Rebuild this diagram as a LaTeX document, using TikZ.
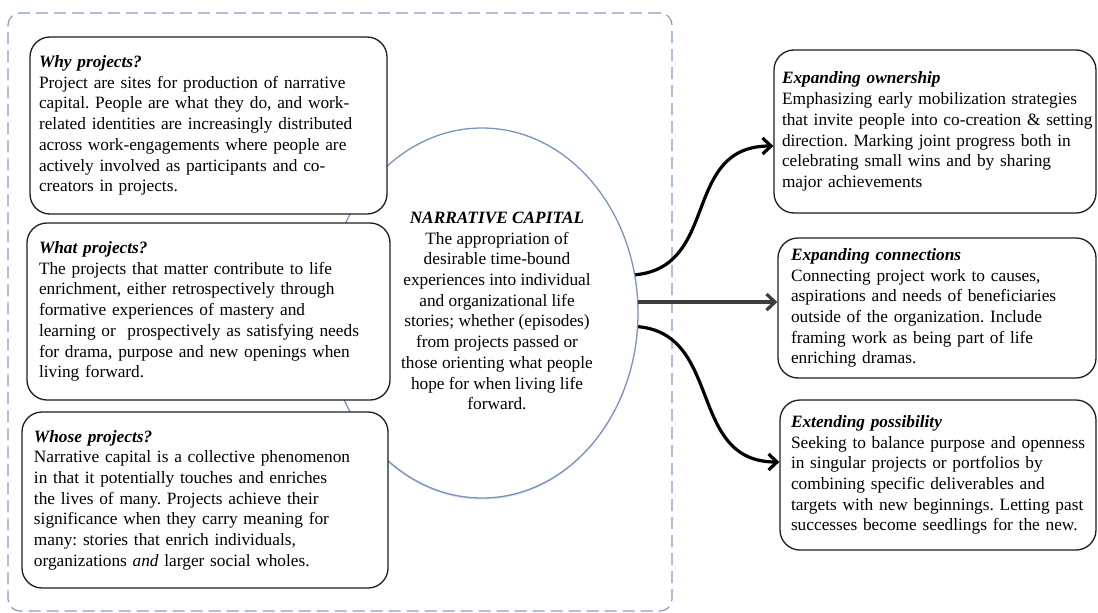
\documentclass[tikz,border=0pt]{standalone}
\usepackage{fontspec}
\setmainfont{Liberation Serif}
\usetikzlibrary{shapes.geometric,arrows.meta,shadows}
\definecolor{framecol}{HTML}{879BC4}
\definecolor{ellcol}{HTML}{7C93BF}
\definecolor{boxline}{HTML}{1E1E1E}
\definecolor{midarrow}{HTML}{3C3C3C}
\newcommand{\Ln}[1]{\mbox{#1}}
\frenchspacing
\begin{document}
\begin{tikzpicture}[x=1pt,y=-1pt,
  txt/.style={font=\fontsize{17.3}{20.7}\selectfont},
  infobox/.style={draw=boxline, line width=1.3pt, rounded corners=20pt, fill=white,
    align=left, txt, inner ysep=0pt},
  flowarrow/.style={line width=3.2pt, -{Straight Barb[length=8.5pt,width=16pt]}},
]
\useasboundingbox (0,0) rectangle (1098,613);

% dashed frame
\node[draw=framecol, dash pattern=on 12pt off 6pt, line width=1.2pt, rounded corners=12pt,
  minimum width=664pt, minimum height=598pt, inner sep=0pt] (frame) at (340,312) {};

% central ellipse
\node[ellipse, draw=ellcol, line width=1.3pt, fill=white, minimum width=312pt,
  minimum height=370pt, inner sep=0pt,
  drop shadow={shadow xshift=0pt, shadow yshift=-1.5pt, opacity=0.35, fill=ellcol}] (nc) at (482,313) {};
\node[txt, align=center, inner sep=0pt] (nctext) at (497,311)
  {\textbf{\textit{NARRATIVE CAPITAL}}\\The appropriation of\\desirable time-bound\\experiences into individual\\and organizational life\\stories; whether (episodes)\\from projects passed or\\those orienting what people\\hope for when living life\\forward.};

% left boxes
\node[infobox, text width=339pt, inner xsep=9pt, minimum height=177pt] (why) at (208.5,125.5)
  {\textbf{\textit{Why projects?}}\\
   \Ln{Project are sites for production of narrative}\\
   \Ln{capital. People are what they do, and work-}\\
   \Ln{related identities are increasingly distributed}\\
   \Ln{across work-engagements where people are}\\
   \Ln{actively involved as participants and co-}\\
   \Ln{creators in projects.}};
\node[infobox, text width=339pt, inner xsep=12pt, minimum height=177pt] (what) at (208.5,311.5)
  {\textbf{\textit{What projects?}}\\
   \Ln{The projects that matter contribute to life}\\
   \Ln{enrichment, either retrospectively through}\\
   \Ln{formative experiences of mastery and}\\
   \Ln{learning or~ prospectively as satisfying needs}\\
   \Ln{for drama, purpose and new openings when}\\
   \Ln{living forward.}};
\node[infobox, text width=342pt, inner xsep=12pt, minimum height=176pt] (whose) at (205,500)
  {\textbf{\textit{Whose projects?}}\\
   \Ln{Narrative capital is a collective phenomenon}\\
   \Ln{in that it potentially touches and enriches}\\
   \Ln{the lives of many. Projects achieve their}\\
   \Ln{significance when they carry meaning for}\\
   \Ln{many: stories that enrich individuals,}\\
   \Ln{organizations \textit{and} larger social wholes.}};

% right boxes
\node[infobox, text width=306pt, inner xsep=8pt, minimum height=163pt] (own) at (935,131.5)
  {\textbf{\textit{Expanding ownership}}\\
   \Ln{Emphasizing early mobilization strategies}\\
   \Ln{that invite people into co-creation \& setting}\\
   \Ln{direction. Marking joint progress both in}\\
   \Ln{celebrating small wins and by sharing}\\
   \Ln{major achievements}};
\node[infobox, text width=292pt, inner xsep=13pt, minimum height=140pt] (conn) at (937,308)
  {\textbf{\textit{Expanding connections}}\\
   \Ln{Connecting project work to causes,}\\
   \Ln{aspirations and needs of beneficiaries}\\
   \Ln{outside of the organization. Include}\\
   \Ln{framing work as being part of life}\\
   \Ln{enriching dramas.}};
\node[infobox, text width=294pt, inner xsep=11pt, minimum height=150pt] (poss) at (938,475)
  {\textbf{\textit{Extending possibility}}\\
   \Ln{Seeking to balance purpose and openness}\\
   \Ln{in singular projects or portfolios by}\\
   \Ln{combining specific deliverables and}\\
   \Ln{targets with new beginnings. Letting past}\\
   \Ln{successes become seedlings for the new.}};

% arrows
\draw[flowarrow] (nc.14) .. controls +(85,-8) and +(-92,0) .. ([yshift=-14.5pt]own.west);
\draw[flowarrow, draw=midarrow] (nc.4.4) -- (nc.4.4 -| conn.west);
\draw[flowarrow] (nc.-5) .. controls +(85,8) and +(-92,0) .. ([yshift=13pt]poss.west);
\end{tikzpicture}
\end{document}
